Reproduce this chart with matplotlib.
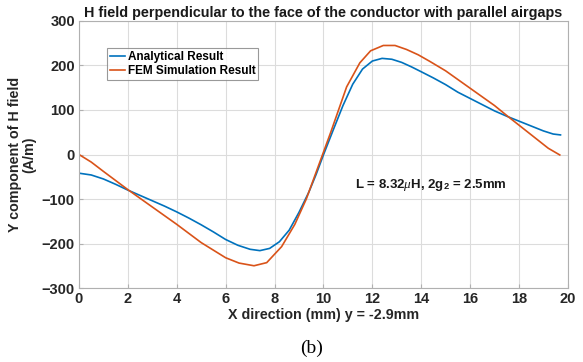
import numpy as np
from matplotlib import pyplot as plt

# analytical result (smooth curve)
x_ana = [0, 0.5, 1, 1.5, 2, 2.5, 3, 3.5, 4, 4.5, 5, 5.5, 6, 6.5, 7, 7.4, 7.8, 8.2, 8.6, 9,
         9.4, 9.7, 10, 10.4, 10.8, 11.2, 11.6, 12, 12.4, 12.8, 13.2, 13.6, 14, 14.5, 15, 15.5,
         16, 16.5, 17, 17.5, 18, 18.5, 19, 19.4, 19.7]
h_ana = [-42, -46, -55, -67, -80, -92, -104, -116, -129, -143, -158, -174, -191, -204, -213, -216,
         -211, -196, -170, -130, -85, -45, -1, 55, 110, 158, 192, 210, 216, 214, 207, 197, 186,
         172, 157, 140, 126, 112, 98, 86, 75, 64, 53, 46, 44]

# FEM simulation (piecewise)
x_fem = [0, 0.5, 1, 2, 3, 4, 5, 6, 6.55, 7.16, 7.68, 8.29, 8.83, 9.3, 9.8, 10.3, 10.95, 11.49,
         11.93, 12.45, 12.93, 13.4, 13.88, 14.36, 15, 16, 17, 17.56, 18, 19.2, 19.67]
h_fem = [0, -17, -38, -79, -118, -157, -198, -232, -244, -250, -243, -207, -157, -100, -25, 50,
         152, 206, 233, 245, 245, 236, 224, 209, 188, 149, 110, 85, 66, 14, -1]

xticks = [0, 2, 4, 6, 8, 10, 12, 14, 16, 18, 20]
yticks = [-300, -200, -100, 0, 100, 200, 300]

plt.rcParams['font.family'] = ['Liberation Sans', 'DejaVu Sans']
plt.rcParams['mathtext.fontset'] = 'custom'
plt.rcParams['mathtext.it'] = 'Liberation Serif:italic'
plt.rcParams['mathtext.rm'] = 'Liberation Sans:bold'

fig = plt.figure(figsize=(5.83, 3.62), dpi=100)
ax = fig.add_axes([0.1355, 0.2044, 0.8385, 0.7376])

ax.plot(x_ana, h_ana, color='#0072BD', lw=1.2, label='Analytical Result')
ax.plot(x_fem, h_fem, color='#D95319', lw=1.2, label='FEM Simulation Result')

ax.set_xlim(0, 20)
ax.set_ylim(-300, 300)
ax.set_xticks(xticks)
ax.set_yticks(yticks)
ax.grid(True, color='#dcdcdc', lw=0.8)
ax.set_axisbelow(True)
for s in ax.spines.values():
    s.set_color('#b0b0b0')
    s.set_linewidth(0.8)
ax.tick_params(direction='in', length=3, color='#b0b0b0', labelsize=10.5, labelcolor='#262626', pad=3)
for lab in ax.get_xticklabels() + ax.get_yticklabels():
    lab.set_fontweight('bold')

ax.set_title('H field perpendicular to the face of the conductor with parallel airgaps',
             fontsize=10.4, fontweight='bold', color='#1a1a1a', pad=3)
ax.set_xlabel('X direction (mm) y = -2.9mm', fontsize=10.3, fontweight='bold', color='#262626', labelpad=1)
ax.set_ylabel('Y component of H field\n(A/m)', fontsize=10.3, fontweight='bold', color='#262626',
              labelpad=4, linespacing=1.0)

ax.text(11.3, -68, r'L = 8.32$\mu$H, 2g$_2$ = 2.5mm', fontsize=9.5, fontweight='bold',
        va='center', color='#1a1a1a')

leg = ax.legend(loc='upper left', bbox_to_anchor=(0.057, 0.9), fontsize=8.5, frameon=True,
                fancybox=False, handlelength=1.3, handletextpad=0.2, borderpad=0.25,
                labelspacing=0.2, borderaxespad=0)
leg.get_frame().set_edgecolor('#808080')
leg.get_frame().set_linewidth(0.8)
for t in leg.get_texts():
    t.set_fontweight('bold')

fig.text(0.535, 0.039, '(b)', fontsize=14, family='Liberation Serif', ha='center', va='center')

fig.savefig('out.png', dpi=100)
